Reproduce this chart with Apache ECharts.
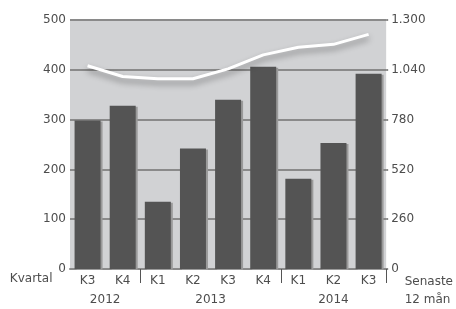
<!DOCTYPE html>
<html>
<head>
<meta charset="utf-8">
<script src="https://cdn.jsdelivr.net/npm/echarts@6/dist/echarts.min.js"></script>
<style>
  html, body { margin: 0; padding: 0; background: #fff; }
  #main { width: 456px; height: 309px; }
</style>
</head>
<body>
<div id="main"></div>
<script>
// kvartal och år
var quarters = ['K3', 'K4', 'K1', 'K2', 'K3', 'K4', 'K1', 'K2', 'K3'];
var years = ['2012', '2013', '2014'];
var yearCounts = [2, 4, 3];
// staplar per kvartal (vänster axel)
var quarterValues = [298, 328, 135, 242, 340, 406, 181, 253, 392];
// senaste 12 mån (höger axel)
var rolling12 = [1061, 1005, 993, 993, 1045, 1118, 1158, 1173, 1225];

var leftTicks = [0, 100, 200, 300, 400, 500];
var rightTicks = [0, 260, 520, 780, 1040, 1300];

// årens mitt-positioner och gränser räknas ut från yearCounts
var yearCenters = {};
var yearStarts = {};
var pos = 0;
for (var i = 0; i < years.length; i++) {
    yearCenters[pos + yearCounts[i] / 2] = years[i];
    if (i > 0) yearStarts[pos] = true;
    pos += yearCounts[i];
}

var textColor = '#4d4d4d';
var gridColor = '#8a8a8a';
var font = 'DejaVu Sans';

var myChart = echarts.init(document.getElementById('main'));
var option = {
    animation: false,
    textStyle: { fontFamily: font },
    grid: { left: 70, right: 65, top: 20, bottom: 39 },
    xAxis: [{
        type: 'category',
        data: quarters,
        name: 'Kvartal',
        nameLocation: 'start',
        nameGap: 13,
        nameTextStyle: { color: textColor, fontSize: 12, verticalAlign: 'top', padding: [4, 0, 0, 0] },
        axisLine: { show: true, lineStyle: { color: gridColor, width: 2 } },
        axisTick: {
            show: true,
            length: 14,
            lineStyle: { color: '#555', width: 1 },
            interval: function (index) { return !!yearStarts[index]; }
        },
        axisLabel: { color: textColor, fontSize: 12, margin: 6 },
        splitLine: { show: false }
    }, {
        type: 'value',
        position: 'bottom',
        min: 0,
        max: quarters.length,
        interval: 0.5,
        name: 'Senaste\n12 mån',
        nameLocation: 'end',
        nameGap: 12,
        nameTextStyle: { color: textColor, fontSize: 12, align: 'left', verticalAlign: 'top', lineHeight: 18, padding: [4, 0, 0, 0] },
        axisLine: { show: false },
        axisTick: { show: false },
        splitLine: { show: false },
        axisLabel: {
            color: textColor, fontSize: 12, margin: 25,
            showMinLabel: true, showMaxLabel: true,
            formatter: function (v) { return yearCenters[v] || ''; }
        }
    }],
    yAxis: [{
        type: 'value',
        min: leftTicks[0],
        max: leftTicks[leftTicks.length - 1],
        interval: leftTicks[1] - leftTicks[0],
        axisLine: { show: false },
        axisTick: { show: false },
        axisLabel: { color: textColor, fontSize: 12, margin: 4 },
        splitArea: { show: true, areaStyle: { color: ['#d1d2d4'] } },
        splitLine: { show: true, lineStyle: { color: gridColor, width: 2, type: 'solid' } }
    }, {
        type: 'value',
        min: rightTicks[0],
        max: rightTicks[rightTicks.length - 1],
        interval: rightTicks[1] - rightTicks[0],
        axisLine: { show: false },
        axisTick: { show: true, length: 2, lineStyle: { color: gridColor, width: 2 } },
        axisLabel: {
            color: textColor, fontSize: 12, margin: 5,
            formatter: function (v) { return String(v).replace(/\B(?=(\d{3})+(?!\d))/g, '.'); }
        },
        splitLine: { show: false }
    }],
    series: [{
        type: 'bar',
        data: quarterValues,
        barWidth: 26,
        itemStyle: {
            color: '#545454',
            shadowColor: '#9a9a9a',
            shadowBlur: 0,
            shadowOffsetX: 2,
            shadowOffsetY: 1
        }
    }, {
        type: 'line',
        yAxisIndex: 1,
        data: rolling12,
        showSymbol: false,
        symbol: 'none',
        lineStyle: {
            color: '#ffffff',
            width: 3,
            shadowColor: 'rgba(0,0,0,0.4)',
            shadowBlur: 6,
            shadowOffsetY: 4
        }
    }]
};
myChart.setOption(option);
</script>
</body>
</html>
